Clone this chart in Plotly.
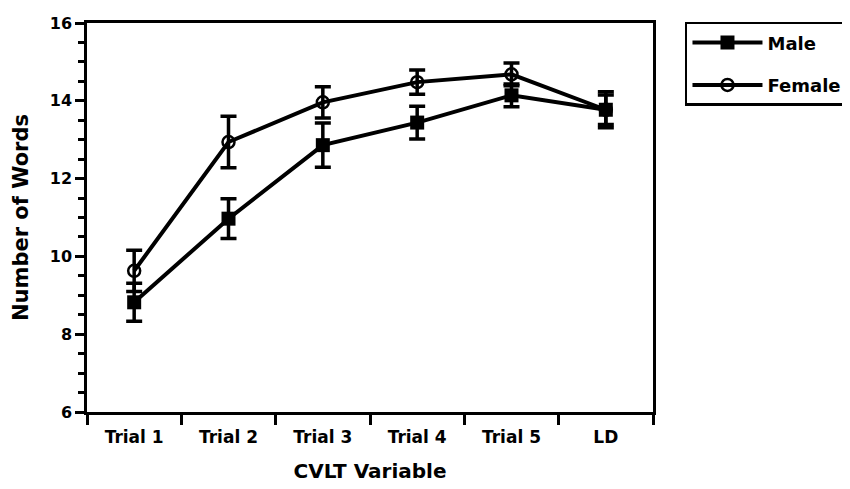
import plotly.graph_objects as go

categories = ["Trial 1", "Trial 2", "Trial 3", "Trial 4", "Trial 5", "LD"]
male_mean = [8.82, 10.97, 12.86, 13.44, 14.14, 13.77]
male_err = [0.49, 0.51, 0.57, 0.42, 0.29, 0.46]
female_mean = [9.63, 12.94, 13.96, 14.48, 14.68, 13.77]
female_err = [0.53, 0.66, 0.40, 0.31, 0.29, 0.38]
y_ticks = [6, 8, 10, 12, 14, 16]

FONT = "DejaVu Sans, Arial, Helvetica, sans-serif"

fig = go.Figure()
fig.add_trace(go.Scatter(
    x=categories, y=female_mean, name="Female", mode="lines+markers",
    line=dict(color="black", width=4),
    marker=dict(symbol="circle-open", size=12, color="black", line=dict(width=2.5, color="black")),
    error_y=dict(type="data", array=female_err, visible=True, color="black", thickness=3.5, width=8),
    legendrank=2, legendgroup="f",
))
fig.add_trace(go.Scatter(
    x=categories, y=male_mean, name="Male", mode="lines+markers",
    line=dict(color="black", width=4),
    marker=dict(symbol="square", size=14, color="black"),
    error_y=dict(type="data", array=male_err, visible=True, color="black", thickness=3.5, width=8),
    legendrank=1, legendgroup="m",
))

fig.update_layout(
    width=842, height=481,
    margin=dict(l=79, r=197, t=15, b=77, autoexpand=False),
    paper_bgcolor="white", plot_bgcolor="white",
    font=dict(family=FONT, color="black", size=16, weight="bold"),
    showlegend=True,
    legend=dict(
        x=1.0565, y=1.003, xanchor="left", yanchor="top",
        bordercolor="black", borderwidth=2.5, bgcolor="white",
        font=dict(size=18, family=FONT, weight="bold"),
        tracegroupgap=16, itemwidth=70,
    ),
    xaxis=dict(
        type="category", categoryorder="array", categoryarray=categories,
        range=[-0.5, 5.5], tickson="boundaries",
        showline=True, linecolor="black", linewidth=2.5, mirror=True,
        ticks="outside", ticklen=10, tickwidth=2.5, tickcolor="black",
        ticklabelstandoff=8,
        showgrid=False, zeroline=False,
        tickfont=dict(size=17, family=FONT, weight="bold"),
        title=dict(text="CVLT Variable", font=dict(size=20, family=FONT, weight="bold"), standoff=18),
    ),
    yaxis=dict(
        range=[6, 16], tickvals=y_ticks,
        showline=True, linecolor="black", linewidth=2.5, mirror=True,
        ticks="outside", ticklen=9, tickwidth=2.5, tickcolor="black",
        minor=dict(dtick=0.5, ticks="outside", ticklen=6, tickwidth=2.5, tickcolor="black"),
        showgrid=False, zeroline=False,
        tickfont=dict(size=16, family=FONT, weight="bold"),
        title=dict(text="Number of Words", font=dict(size=21, family=FONT, weight="bold"), standoff=16),
    ),
)

fig.write_html("out.html")
